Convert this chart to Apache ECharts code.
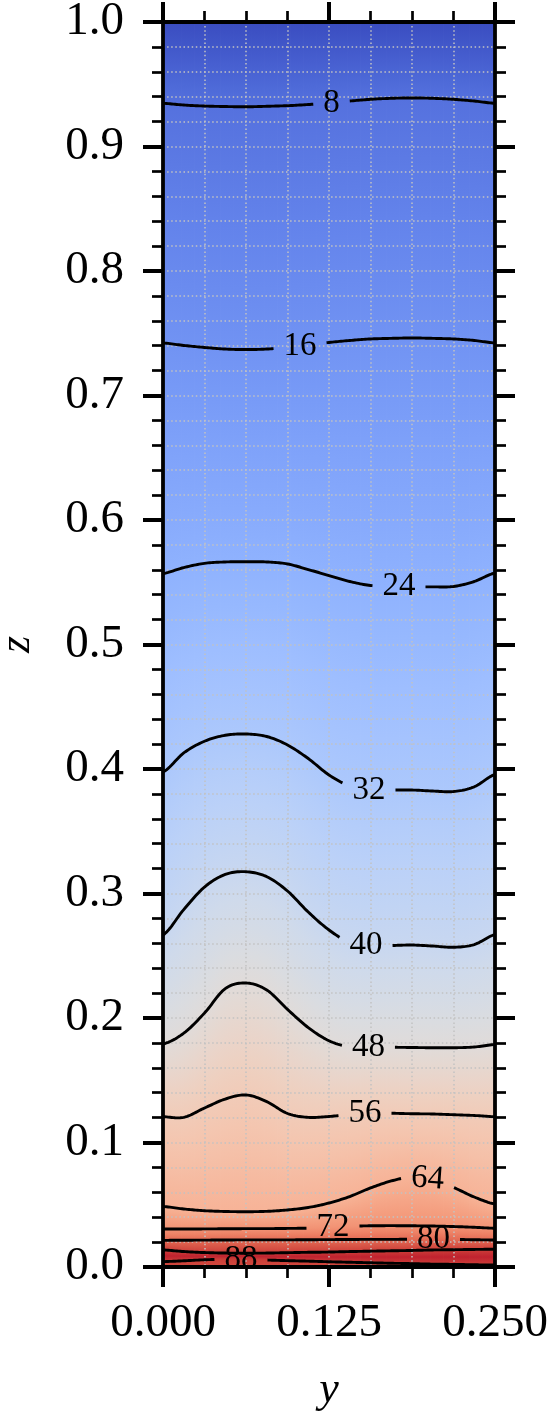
<!DOCTYPE html>
<html><head><meta charset="utf-8">
<script src="https://cdn.jsdelivr.net/npm/echarts@6/dist/echarts.min.js"></script>
<style>html,body{margin:0;padding:0;background:#fff}#c{width:552px;height:1419px}</style>
</head><body><div id="c"></div>
<script>
// ---------- data ----------
const yCols = [0,0.015625,0.03125,0.046875,0.0625,0.078125,0.09375,0.109375,0.125,0.140625,0.15625,0.171875,0.1875,0.203125,0.21875,0.234375,0.25];
// z position of each contour line at the y columns
const z8   = [0.9347,0.9333,0.9325,0.9321,0.9319,0.9323,0.9328,0.9337,0.9349,0.9365,0.9379,0.9387,0.9390,0.9387,0.9379,0.9365,0.9347];
const z16  = [0.7422,0.7402,0.7386,0.7373,0.7369,0.7373,0.7386,0.7406,0.7426,0.7442,0.7454,0.7459,0.7462,0.7459,0.7454,0.7442,0.7422];
const z24  = [0.5570,0.5618,0.5652,0.5663,0.5665,0.5663,0.5647,0.5602,0.5554,0.5506,0.5474,0.5466,0.5463,0.5463,0.5466,0.5506,0.5574];
const z32  = [0.3976,0.4129,0.4223,0.4271,0.4281,0.4261,0.4193,0.4084,0.3952,0.3863,0.3831,0.3831,0.3831,0.3823,0.3819,0.3857,0.3956];
const z40  = [0.2667,0.2871,0.3052,0.3153,0.3175,0.3135,0.3020,0.2851,0.2707,0.2606,0.2578,0.2582,0.2586,0.2578,0.2568,0.2590,0.2670];
const z48  = [0.1791,0.1878,0.2040,0.2236,0.2281,0.2225,0.2069,0.1923,0.1817,0.1769,0.1767,0.1765,0.1763,0.1761,0.1761,0.1767,0.1787];
const z56  = [0.1207,0.1202,0.1277,0.1349,0.1382,0.1328,0.1233,0.1202,0.1209,0.1225,0.1237,0.1235,0.1231,0.1229,0.1223,0.1217,0.1207];
const z64  = [0.0486,0.0466,0.0452,0.0446,0.0444,0.0447,0.0458,0.0478,0.0514,0.0566,0.0635,0.0691,0.0723,0.0699,0.0639,0.0562,0.0506];
const z72  = [0.0305,0.0305,0.0306,0.0307,0.0308,0.0308,0.0310,0.0312,0.0319,0.0327,0.0331,0.0332,0.0331,0.0329,0.0325,0.0319,0.0311];
const z80  = [0.0214,0.0215,0.0216,0.0217,0.0218,0.0218,0.0218,0.0219,0.0220,0.0221,0.0222,0.0222,0.0223,0.0224,0.0222,0.0219,0.0217];
const z88a = [0.0137,0.0124,0.0116,0.0112,0.0111,0.0112,0.0115,0.0118,0.0120,0.0124,0.0127,0.0130,0.0133,0.0137,0.0139,0.0141,0.0143];
const z88b = [0.0043,0.0050,0.0058,0.0062,0.0062,0.0056,0.0051,0.0047,0.0042,0.0038,0.0034,0.0030,0.0027,0.0023,0.0021,0.0018,0.0016];
// warmest layer between the two 88 lines
const ridgeZ = [0.0090,0.0087,0.0087,0.0087,0.0087,0.0084,0.0083,0.0083,0.0081,0.0081,0.0081,0.0080,0.0080,0.0080,0.0080,0.0080,0.0080];
const ridgeValue = 91;
const topValue = 0;      // value at z = 1
const bottomValue = 86;  // value at z = 0

const contourLevels = [8,16,24,32,40,48,56,64,72,80,88,88];
const contourZ = [z8,z16,z24,z32,z40,z48,z56,z64,z72,z80,z88a,z88b];
// inline labels: which contour, and the y where the label sits
const labelContour = [0,1,2,3,4,5,6,7,8,9,11];
const labelY = [0.1269,0.1032,0.1777,0.1551,0.1529,0.1547,0.1521,0.1992,0.1280,0.2037,0.0587];
const labelTilt = [0,0,0,0,0,0,0,-4,0,0,0];

const xTicks = [0,0.125,0.25];
const zTicks = [0,0.1,0.2,0.3,0.4,0.5,0.6,0.7,0.8,0.9,1.0];
const xName = 'y', zName = 'z';

// ---------- helpers ----------
const VMIN = 0, VMAX = 94;
const CW = [[58,76,192],[77,104,215],[98,130,234],[119,154,247],[141,176,254],[163,194,255],[184,208,249],[204,217,238],[221,221,221],[236,211,197],[245,196,173],[247,177,148],[244,154,123],[236,127,99],[222,96,77],[203,62,56],[180,4,38]];
function cw(v){
  let t = (v - VMIN) / (VMAX - VMIN); t = Math.max(0, Math.min(1, t));
  const f = t * (CW.length - 1); let i = Math.floor(f); if (i >= CW.length - 1) i = CW.length - 2;
  const u = f - i, a = CW[i], b = CW[i+1];
  return 'rgb(' + [0,1,2].map(k => Math.round(a[k] + (b[k]-a[k])*u)).join(',') + ')';
}
const dyc = yCols[1] - yCols[0];
function curveZ(arr, y){
  let s = y / dyc; let i = Math.floor(s);
  if (i > arr.length - 2) i = arr.length - 2; if (i < 0) i = 0;
  const t = s - i;
  const p0 = arr[Math.max(i-1,0)], p1 = arr[i], p2 = arr[i+1], p3 = arr[Math.min(i+2, arr.length-1)];
  const t2 = t*t, t3 = t2*t;
  return 0.5*((2*p1) + (-p0+p2)*t + (2*p0-5*p1+4*p2-p3)*t2 + (-p0+3*p1-3*p2+p3)*t3);
}
const SUB = 8;
const strips = [];
for (let i = 0; i < yCols.length - 1; i++) for (let k = 0; k < SUB; k++) {
  strips.push([yCols[i] + dyc*k/SUB, yCols[i] + dyc*(k+1)/SUB]);
}
// fill profile order from bottom to top
const fillSeq = [[z88b,88],[ridgeZ,ridgeValue],[z88a,88],[z80,80],[z72,72],[z64,64],[z56,56],[z48,48],[z40,40],[z32,32],[z24,24],[z16,16],[z8,8]];

function renderFill(params, api){
  const y0 = api.value(0), y1 = api.value(1), ym = (y0 + y1) / 2;
  const prof = [[0, bottomValue]];
  fillSeq.forEach(([arr, v]) => prof.push([curveZ(arr, ym), v]));
  prof.push([1, topValue]);
  prof.sort((a,b) => a[0]-b[0]);
  const stops = [];
  for (let j = prof.length - 1; j >= 0; j--) {
    const [z, v] = prof[j];
    stops.push({offset: Math.min(1, Math.max(0, 1 - z)), color: cw(v)});
    if (j > 0) {
      const [zn, vn] = prof[j-1];
      for (let m = 1; m < 4; m++) {
        const u = m/4;
        stops.push({offset: Math.min(1, Math.max(0, 1 - (z + (zn - z)*u))), color: cw(v + (vn - v)*u)});
      }
    }
  }
  const a = api.coord([y0, 1]), b = api.coord([y1, 0]);
  return {type:'rect', shape:{x:a[0], y:a[1], width:b[0]-a[0]+0.8, height:b[1]-a[1]},
    style:{fill: new echarts.graphic.LinearGradient(0,0,0,1,stops)}};
}

const LABEL_FONT = 33;
function renderContour(params, api){
  const ci = api.value(0);
  const arr = contourZ[ci];
  const li = labelContour.indexOf(ci);
  const sc = api.size([1, 1]); // pixels per data unit
  const ys = [];
  const N = (yCols.length - 1) * 12;
  for (let k = 0; k <= N; k++) ys.push(yCols[0] + (yCols[yCols.length-1]-yCols[0]) * k / N);
  const children = [];
  const lineStyle = {stroke:'#000', lineWidth:2.9, fill:null, lineJoin:'round'};
  if (li < 0) {
    children.push({type:'polyline', shape:{points: ys.map(y => api.coord([y, curveZ(arr, y)]))}, style: lineStyle});
  } else {
    const text = String(contourLevels[ci]);
    const hw = (text.length * LABEL_FONT * 0.5) / 2 + 10;
    const ly = labelY[li];
    const cutL = ly - hw / sc[0], cutR = ly + hw / sc[0];
    const left = ys.filter(y => y < cutL).concat([cutL]);
    const right = [cutR].concat(ys.filter(y => y > cutR));
    [left, right].forEach(seg => {
      const s = seg.filter(y => y >= 0 && y <= 0.25);
      if (s.length > 1) children.push({type:'polyline', shape:{points: s.map(y => api.coord([y, curveZ(arr, y)]))}, style: lineStyle});
    });
    const c = api.coord([ly, curveZ(arr, ly)]);
    children.push({type:'text', x:c[0], y:c[1], rotation: labelTilt[li]*Math.PI/180,
      style:{text:text, fill:'#000', font: LABEL_FONT + 'px "Liberation Serif"', align:'center', verticalAlign:'middle'}});
  }
  return {type:'group', children};
}

const gridStyle = {color:'#c2c2c2', width:1.5, type:[1.5,2.6]};
const axisCommon = {
  type:'value', z:5,
  axisLine:{show:true, onZero:false, lineStyle:{color:'#000', width:3.8}},
  axisTick:{show:true, length:20, lineStyle:{color:'#000', width:4}},
  minorTick:{show:true, length:11, lineStyle:{color:'#000', width:2.7}}
};
const labelFont = {fontFamily:'Liberation Serif', fontSize:47, color:'#000'};

const chart = echarts.init(document.getElementById('c'), null, {renderer:'canvas'});
chart.setOption({
  animation:false,
  backgroundColor:'#fff',
  grid:{left:163, right:57, top:22, bottom:152, containLabel:false, outerBoundsMode:'none'},
  xAxis:[
    Object.assign({}, axisCommon, {min:xTicks[0], max:xTicks[xTicks.length-1], interval:xTicks[1]-xTicks[0], position:'bottom',
      minorTick:Object.assign({}, axisCommon.minorTick, {splitNumber:4}),
      name:xName, nameLocation:'middle', nameGap:101,
      nameTextStyle:{fontFamily:'Liberation Serif', fontStyle:'italic', fontSize:44, color:'#000'},
      axisLabel:Object.assign({margin:33, formatter:v => v.toFixed(3)}, labelFont),
      splitLine:{show:true, lineStyle:gridStyle}, minorSplitLine:{show:true, lineStyle:gridStyle}}),
    Object.assign({}, axisCommon, {min:xTicks[0], max:xTicks[xTicks.length-1], interval:xTicks[1]-xTicks[0], position:'top',
      minorTick:Object.assign({}, axisCommon.minorTick, {splitNumber:4}),
      axisLabel:{show:false}, splitLine:{show:false}})
  ],
  yAxis:[
    Object.assign({}, axisCommon, {min:zTicks[0], max:zTicks[zTicks.length-1], interval:zTicks[1]-zTicks[0], position:'left',
      minorTick:Object.assign({}, axisCommon.minorTick, {splitNumber:5}),
      name:zName, nameLocation:'middle', nameGap:124,
      nameTextStyle:{fontFamily:'Liberation Serif', fontStyle:'italic', fontSize:44, color:'#000'},
      axisLabel:Object.assign({margin:39, padding:[7,0,0,0], formatter:v => v.toFixed(1)}, labelFont),
      splitLine:{show:true, lineStyle:gridStyle}, minorSplitLine:{show:true, lineStyle:gridStyle}}),
    Object.assign({}, axisCommon, {min:zTicks[0], max:zTicks[zTicks.length-1], interval:zTicks[1]-zTicks[0], position:'right',
      minorTick:Object.assign({}, axisCommon.minorTick, {splitNumber:5}),
      axisLabel:{show:false}, splitLine:{show:false}})
  ],
  series:[
    {type:'custom', name:'field', coordinateSystem:'cartesian2d', xAxisIndex:0, yAxisIndex:0, z:1, silent:true, clip:true,
      renderItem:renderFill, data:strips},
    {type:'custom', name:'contours', coordinateSystem:'cartesian2d', xAxisIndex:0, yAxisIndex:0, z:6, silent:true, clip:true,
      renderItem:renderContour, data:contourZ.map((_, i) => [i])}
  ]
});
</script></body></html>
